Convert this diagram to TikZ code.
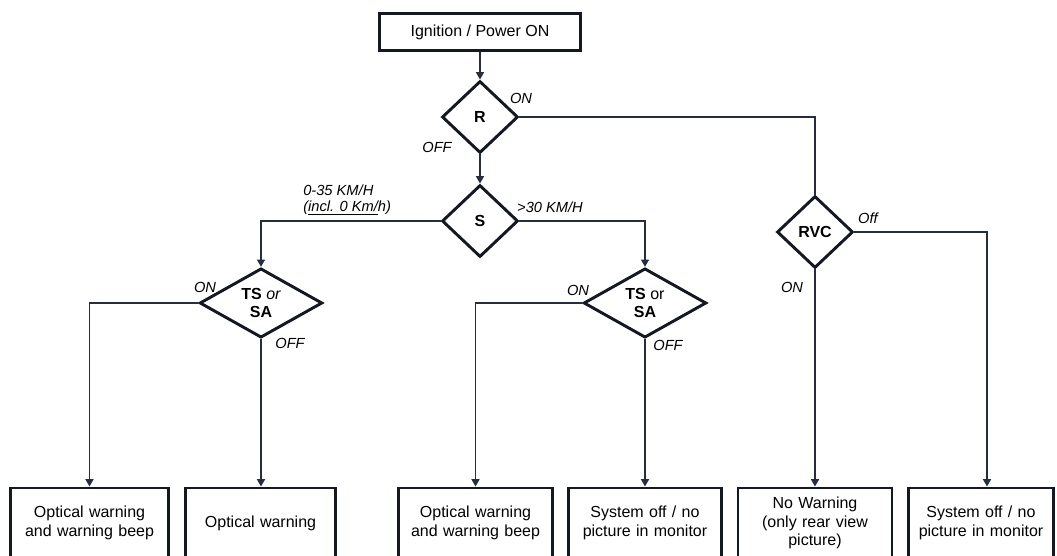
\documentclass[tikz,border=0pt]{standalone}
\usepackage{fontspec}
\setmainfont{Liberation Sans}
\usetikzlibrary{shapes.geometric,arrows.meta}
\definecolor{linecol}{RGB}{38,46,62}
\definecolor{boxcol}{RGB}{20,24,32}

\begin{document}
\begin{tikzpicture} 
		[x=0.75pt, y=-0.75pt,
		box node/.style={rectangle, draw=boxcol, line width=2.2pt, align=center, text width=#1, minimum height=52.5pt, inner sep=0pt, font=\fontsize{12}{14}\selectfont},
		start node/.style={rectangle, draw=boxcol, line width=2.2pt, minimum width=151pt, minimum height=28pt, inner sep=0pt, font=\fontsize{12}{14}\selectfont},
		decision/.style={diamond, draw=boxcol, line width=2.2pt, inner sep=0pt, minimum width=57pt, minimum height=54pt, align=center, font=\fontsize{12}{14}\selectfont\bfseries},
		wide/.style={minimum width=92pt, minimum height=52pt},
		lab/.style={inner sep=0pt, font=\fontsize{11}{12}\selectfont\itshape},
		conn/.style={draw=linecol, line width=1.1pt},
		arr/.style={conn, -{Triangle[length=5.5pt, width=6pt]}}]
			\useasboundingbox (0,0) rectangle (1057,556);
			\node[start node] (ign) at (480,32) {Ignition / Power ON};
			\node[decision] (R) at (480,117) {R};
			\node[decision] (S) at (480,221) {S};
			\node[decision] (RVC) at (815,232) {RVC};
			\node[decision, wide] (TSa) at (261,303) {TS {\mdseries\itshape or}\\SA};
			\node[decision, wide] (TSb) at (645,303) {TS {\mdseries or}\\SA};

			\node[box node=118pt] (b1) at (89.5,523) {Optical warning\\and warning beep};
			\node[box node=112pt] (b2) at (260.5,523) {Optical warning};
			\node[box node=115.5pt] (b3) at (475.5,523) {Optical warning\\and warning beep};
			\node[box node=115pt] (b4) at (645,523) {System off / no\\picture in monitor};
			\node[box node=115.5pt] (b5) at (815,523) {No Warning\\(only rear view\\picture)};
			\node[box node=109pt] (b6) at (981,523) {System off / no\\picture in monitor};

			\node[lab] (Ron) at (521,98) {ON};
			\node[lab] (Roff) at (437,147) {OFF};
			\node[lab, align=left, anchor=west] (slow) at (303,200) {0-35 KM/H\\(\underline{incl. 0 Km/}h)};
			\node[lab] (fast) at (550,207) {>30 KM/H};
			\node[lab] (TSaon) at (205,287) {ON};
			\node[lab] (TSaoff) at (290,343) {OFF};
			\node[lab] (TSbon) at (578,290) {ON};
			\node[lab] (TSboff) at (668,345) {OFF};
			\node[lab] (RVCoff) at (868,218) {Off};
			\node[lab] (RVCon) at (792,287) {ON};

			\draw[arr] (ign) -- (R);
			\draw[arr] (R) -- (S);
			\draw[conn] (R.east) -| (RVC.north);
			\draw[arr] (S.west) -| (TSa.north);
			\draw[arr] (S.east) -| (TSb.north);
			\draw[arr] (TSa.west) -| (b1.north);
			\draw[arr] (TSa.south) -- (TSa.south |- b2.north);
			\draw[arr] (TSb.west) -| (b3.north);
			\draw[arr] (TSb.south) -- (TSb.south |- b4.north);
			\draw[arr] (RVC.south) -- (RVC.south |- b5.north);
			\draw[arr] (RVC.east) -| ([xshift=4.5pt]b6.north);
		\end{tikzpicture}
\end{document}
